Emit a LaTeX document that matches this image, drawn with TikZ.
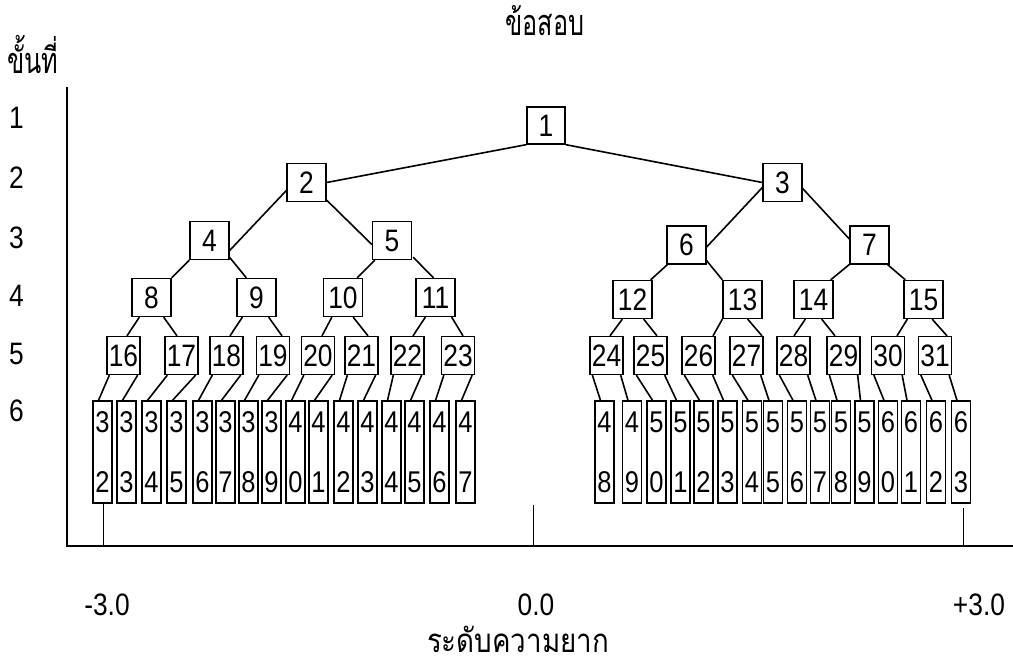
\documentclass[tikz,border=0pt]{standalone}
\usepackage{fontspec}
\setmainfont{Liberation Sans}
\newfontfamily\digitfont[FakeStretch=0.85]{Liberation Sans}
\newfontfamily\thaifont[Script=Thai,FakeStretch=0.7]{Loma}
\newfontfamily\thaiwide[Script=Thai,FakeStretch=0.84]{Loma}
\usetikzlibrary{calc}
\begin{document}
\begin{tikzpicture}[x=1pt,y=-1pt,
  box/.style={draw, line width=1.3pt, minimum width=39, minimum height=38, inner sep=0pt,
              font=\digitfont\fontsize{31}{34}\selectfont},
  sbox/.style={box, minimum width=33},
  leaf/.style={draw, line width=1.3pt, minimum width=19, minimum height=102, inner sep=0pt,
               align=center, font=\digitfont\fontsize{30}{60}\selectfont},
  edge/.style={line width=1.6pt},
  axisline/.style={line width=1.7pt},
  tickline/.style={line width=0.9pt},
  lab/.style={font=\digitfont\fontsize{31}{34}\selectfont, inner sep=0pt},
  thai/.style={font=\thaifont\fontsize{36}{40}\selectfont, inner sep=0pt}]
\useasboundingbox (0,0) rectangle (1013,671);

% texts
\node[thai, anchor=base] (title) at (545,36) {ข้อสอบ};
\node[thai, anchor=base] (ylab) at (33,74) {ขั้นที่};
\node[thai, anchor=base, font=\thaiwide\fontsize{33}{38}\selectfont] (xlab) at (518,652) {ระดับความยาก};
\foreach \r/\y in {1/118,2/178,3/238,4/296,5/354,6/411}
  \node[lab, anchor=west] (row\r) at (9,\y) {\r};
\node[lab, anchor=base] (tm3) at (107,615) {-3.0};
\node[lab, anchor=base] (t0) at (536,615) {0.0};
\node[lab, anchor=base] (tp3) at (979,615) {+3.0};

% axes
\coordinate (ytop) at (67,87);
\coordinate (orig) at (67,546);
\coordinate (xend) at (1013,546);
\draw[axisline] (ytop) -- (orig) -- (xend);
\coordinate (k1a) at (103,503); \coordinate (k1b) at (103,546);
\coordinate (k2a) at (533,505); \coordinate (k2b) at (533,546);
\coordinate (k3a) at (963,508); \coordinate (k3b) at (963,546);
\draw[tickline] (k1a) -- (k1b);
\draw[tickline] (k2a) -- (k2b);
\draw[tickline] (k3a) -- (k3b);

% level 1-4
\node[box, minimum width=38, minimum height=37] (n1) at (546,125.5) {1};
\node[box] (n2) at (306.5,182.5) {2};
\node[box] (n3) at (782.5,182.5) {3};
\node[box] (n4) at (209.5,240.5) {4};
\node[box] (n5) at (392,240.5) {5};
\node[box] (n6) at (686.5,245) {6};
\node[box] (n7) at (869.5,245) {7};
\foreach \n/\x in {8/151.5,9/256.5,10/343,11/435.5}
  \node[box] (n\n) at (\x,297.5) {\n};
\foreach \n/\x in {12/632.5,13/742.5,14/813.5,15/923.5}
  \node[box] (n\n) at (\x,299.5) {\n};
% level 5
\foreach \n/\x in {16/123.5,17/181.5,18/226.5,19/273,20/318,21/361.5,22/407.5,23/458,
                   24/606.5,25/650.5,26/698.5,27/746.5,28/793.5,29/843.5,30/888,31/935}
  \node[sbox] (n\n) at (\x,355.5) {\n};
% leaves
\foreach \n/\x in {32/102.5,33/126.5,34/151.5,35/176.5,36/202.5,37/225.5,38/248.5,39/271.5,
                   40/295.5,41/318.5,42/343.5,43/367.5,44/391.5,45/414.5,46/439.5,47/465.5,
                   48/604.5,49/632,50/656.5,51/680.5,52/703.5,53/727.5,54/752,55/773,
                   56/797,57/820,58/841,59/864.5,60/888,61/911,62/936,63/961}{
  \pgfmathtruncatemacro\digA{int(\n/10)}
  \pgfmathtruncatemacro\digB{mod(\n,10)}
  \node[leaf] (l\n) at (\x,452) {\digA\\\digB};
}

% connectors level 1-2
\draw[edge] (n1.south west) -- (n2.east);
\draw[edge] (n1.south east) -- (n3.west);
% level 2-3
\draw[edge] ($(n2.west)+(0,8)$) -- ($(n4.east)+(0,10)$);
\draw[edge] ($(n2.south east)+(0,-2)$) -- ($(n5.west)+(0,4)$);
\draw[edge] ($(n3.west)+(0,5)$) -- ($(n6.east)+(0,2)$);
\draw[edge] ($(n3.east)+(0,6)$) -- ($(n7.west)+(0,-6)$);
% level 3-4
\draw[edge] (n4.south west) -- (n8.north east);
\draw[edge] ($(n4.south east)+(-1,-4)$) -- ($(n9.north west)+(10,0)$);
\draw[edge] ($(n5.south west)+(3,0)$) -- ($(n10.north east)+(-6,0)$);
\draw[edge] ($(n5.south east)+(1,-3)$) -- ($(n11.north)+(-2,0)$);
\draw[edge] ($(n6.south west)+(1,0)$) -- ($(n12.north east)+(-2,0)$);
\draw[edge] ($(n6.south east)+(0,-4)$) -- (n13.north west);
\draw[edge] ($(n7.south west)+(1,-1)$) -- ($(n14.north east)+(-3,0)$);
\draw[edge] ($(n7.south east)+(-2,0)$) -- ($(n15.north west)+(2,0)$);
% level 4-5: parent/left child/right child/start offsets/end offsets
\foreach \p/\a/\b/\sa/\ea/\sb/\eb in {8/16/17/8/3.5/-8/-4.5, 9/18/19/6/3.5/-8/9,
    10/20/21/9/4/-10/6.5, 11/22/23/10/5.5/-4/5,
    12/24/25/10/3.5/-9/6.5, 13/26/27/0/14.5/-15/15.5,
    14/28/29/12/0.5/-12/-8.5, 15/30/31/4/9/-11.5/12}{
  \draw[edge] ($(n\p.south west)+(\sa,0)$) -- ($(n\a.north)+(\ea,0)$);
  \draw[edge] ($(n\p.south east)+(\sb,0)$) -- ($(n\b.north)+(\eb,0)$);
}
% level 5-6
\foreach \p in {16,...,31}{
  \pgfmathtruncatemacro\la{2*\p}
  \pgfmathtruncatemacro\lb{2*\p+1}
  \draw[edge] ($(n\p.south west)+(3,0)$) -- ($(l\la.north)+(-4,0)$);
  \draw[edge] ($(n\p.south east)+(-3,0)$) -- ($(l\lb.north)+(-4,0)$);
}
\end{tikzpicture}
\end{document}
